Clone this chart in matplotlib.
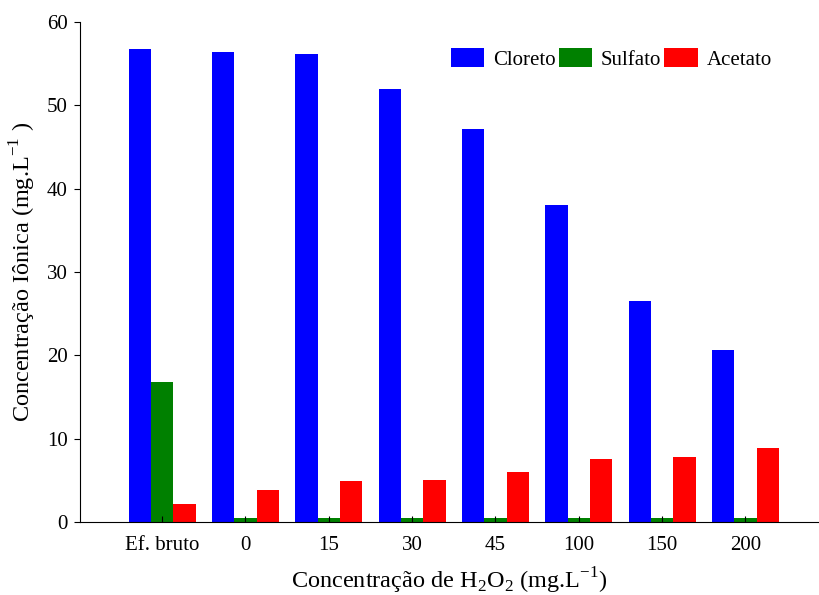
import matplotlib.pyplot as plt
import numpy as np

plt.rcParams['font.family'] = ['Liberation Serif', 'DejaVu Serif']
plt.rcParams['mathtext.fontset'] = 'custom'
plt.rcParams['mathtext.rm'] = 'Liberation Serif'

categorias = ['Ef. bruto', '0', '15', '30', '45', '100', '150', '200']
cloreto = [56.7, 56.4, 56.2, 52.0, 47.1, 38.0, 26.5, 20.6]
sulfato = [16.8, 0.5, 0.5, 0.5, 0.5, 0.5, 0.5, 0.5]
acetato = [2.2, 3.85, 4.9, 5.1, 6.05, 7.55, 7.8, 8.85]

fig = plt.figure(figsize=(8.19, 5.95), dpi=100)
ax = fig.add_axes([80/819, 73/595, 738/819, 500/595])

x = np.arange(len(categorias))
w = 0.268
ax.bar(x - w, cloreto, w, color='#0000ff', label='Cloreto')
ax.bar(x, sulfato, w, color='#008000', label='Sulfato')
ax.bar(x + w, acetato, w, color='#ff0000', label='Acetato')

ax.set_xlim(-0.985, 7.87)
ax.set_ylim(0, 60)
ax.set_yticks(np.arange(0, 61, 10))
ax.set_xticks(x)
ax.set_xticklabels(categorias)
ax.tick_params(axis='x', direction='in', length=4, labelsize=15, pad=10)
ax.tick_params(axis='y', direction='out', length=4, labelsize=15, pad=5)
ax.spines['top'].set_visible(False)
ax.spines['right'].set_visible(False)

ax.set_ylabel('Concentração Iônica (mg.L$^{-1}$ )', fontsize=17.5, labelpad=6)
ax.set_xlabel('Concentração de H$_2$O$_2$ (mg.L$^{-1}$)', fontsize=17.5, labelpad=8)

ax.legend(loc='upper right', bbox_to_anchor=(0.963, 0.985), ncol=3, frameon=False,
          fontsize=15, handlelength=1.6, handleheight=1.0, handletextpad=0.43,
          columnspacing=0.15)

fig.savefig('out.png', dpi=100)
